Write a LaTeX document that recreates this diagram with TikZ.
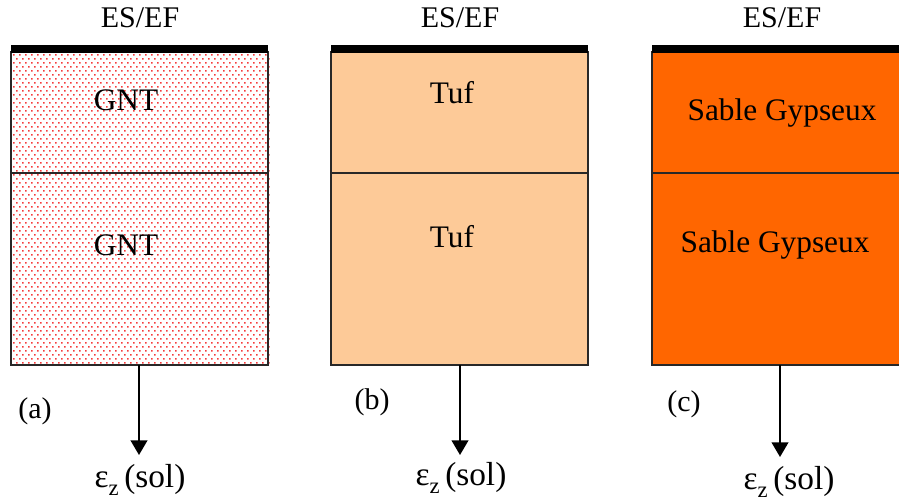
\documentclass[tikz,border=0pt]{standalone}
\usepackage{fontspec}
\setmainfont{Liberation Serif}
\newfontfamily\tnr{Liberation Serif}
\usetikzlibrary{arrows.meta}
\definecolor{tufc}{RGB}{253,202,152}
\definecolor{gypc}{RGB}{255,102,0}
\definecolor{edgec}{RGB}{40,40,40}
\definecolor{dotc}{RGB}{245,60,60}
\tikzset{
  lbl/.style={font=\tnr\fontsize{22.5}{24}\selectfont, inner sep=0pt},
  blbl/.style={font=\tnr\fontsize{23.5}{25}\selectfont, inner sep=0pt},
  elbl/.style={font=\tnr\fontsize{25}{27}\selectfont, inner sep=0pt},
  layer/.style={draw=edgec, line width=1.5pt},
  topbar/.style={fill=black, draw=none},
  load/.style={line width=1.5pt, -{Triangle[width=12.5pt,length=11pt]}},
}
\newcommand{\epsz}{ε\raisebox{-6pt}{\fontsize{17}{17}\selectfont z}\,(sol)}
\begin{document}
\begin{tikzpicture}[x=0.75pt,y=-0.75pt]
\useasboundingbox (0,0) rectangle (899,501);
\clip (0,0) rectangle (899,501);
% panel a
\fill[white] (11,52) rectangle (268,365);
\fill[dotc] foreach \r in {0,...,77} {
  foreach \c in {0,...,42} {
    ({13+6*\c+3*mod(\r,2)},{54+4*\r}) rectangle ++(1.6,1.6)
  }
};
\draw[layer] (11,52) rectangle (268,365);
\draw[layer] (11,173) -- (268,173);
\fill[topbar] (11,45) rectangle (268,53);
% panel b
\draw[layer, fill=tufc] (331,52) rectangle (588,365);
\draw[layer] (331,173) -- (588,173);
\fill[topbar] (331,45) rectangle (588,53);
% panel c
\draw[layer, fill=gypc] (652,52) rectangle (910,365);
\draw[layer] (652,173) -- (910,173);
\fill[topbar] (652,45) rectangle (910,53);

% labels
\node[lbl] (esa) at (140,18) {ES/EF};
\node[lbl] (esb) at (460,18) {ES/EF};
\node[lbl] (esc) at (782,18) {ES/EF};
\node[blbl] (ga1) at (126,100) {GNT};
\node[blbl] (ga2) at (126,245) {GNT};
\node[blbl] (tb1) at (452,93) {Tuf};
\node[blbl] (tb2) at (452,237) {Tuf};
\node[blbl] (sc1) at (782,113) {Sable Gypseux};
\node[blbl] (sc2) at (775,245) {Sable Gypseux};
\node[lbl] (pa) at (35,411) {(a)};
\node[lbl] (pb) at (372,402) {(b)};
\node[lbl] (pc) at (684,404) {(c)};
\node[elbl] (ea) at (140,480) {\epsz};
\node[elbl] (eb) at (461,478) {\epsz};
\node[elbl] (ec) at (789,482) {\epsz};

% connectors
\coordinate (ba) at (139,365);
\coordinate (bb) at (460,365);
\coordinate (bc) at (780,365);
\coordinate (ta) at (139,455);
\coordinate (tb) at (460,455);
\coordinate (tc) at (780,457);
\draw[load] (ba) -- (ta);
\draw[load] (bb) -- (tb);
\draw[load] (bc) -- (tc);
\end{tikzpicture}
\end{document}
